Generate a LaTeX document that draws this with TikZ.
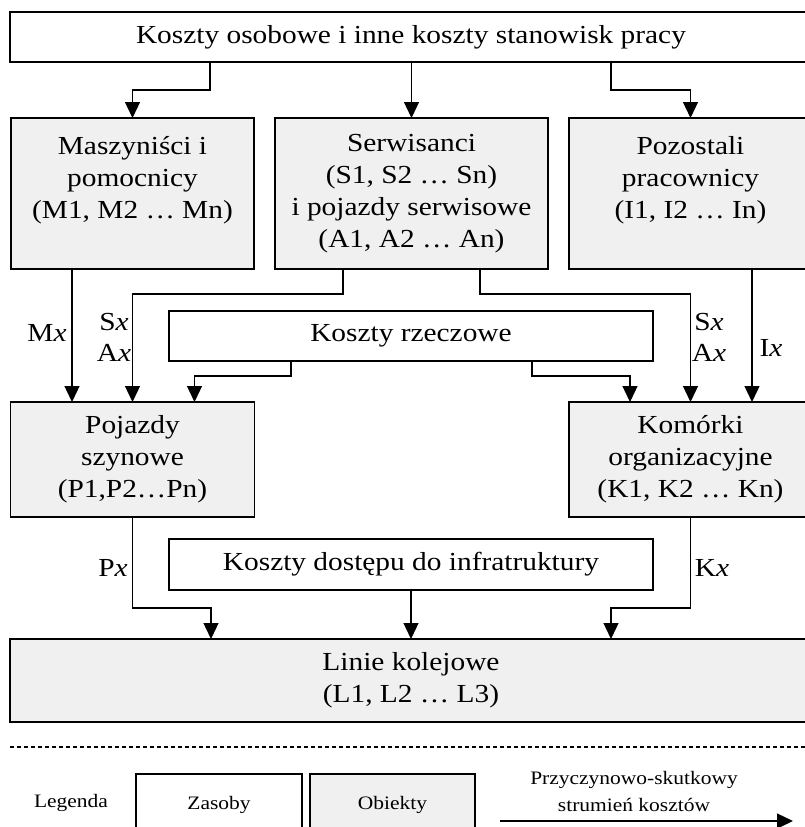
\documentclass[tikz,border=0pt]{standalone}
\usepackage{fontspec}
\setmainfont[FakeStretch=1.13]{Liberation Serif}
\usepackage{tikz}
\usetikzlibrary{arrows.meta}

\tikzset{
	zasob/.style={draw, line width=1.3pt, inner sep=0pt, outer sep=0pt, align=center},
	obiekt/.style={zasob, fill=black!6},
	flow/.style={-{Triangle[width=15pt,length=16pt]}, line width=1.3pt},
	opis/.style={inner sep=0pt, align=center},
	legfont/.style={font=\fontsize{19}{27}\selectfont}
}

\begin{document}
\begin{tikzpicture}[x=1pt, y=-1pt, font=\fontsize{26}{32}\selectfont]
		\useasboundingbox (0,0) rectangle (805,827);
		\clip (0,0) rectangle (805,827);
		\node[zasob, minimum width=802, minimum height=50] (koszty) at (411,37) {Koszty osobowe i inne koszty stanowisk pracy};
		\node[obiekt, minimum width=243, minimum height=151] (masz) at (132.5,193.5) {Maszyniści i\\pomocnicy\\(M1, M2 … Mn)\\\mbox{}};
		\node[obiekt, minimum width=273, minimum height=151] (serw) at (411.5,193.5) {Serwisanci\\(S1, S2 … Sn)\\i pojazdy serwisowe\\(A1, A2 … An)};
		\node[obiekt, minimum width=243, minimum height=151] (poz) at (690.5,193.5) {Pozostali\\pracownicy\\(I1, I2 … In)\\\mbox{}};
		\node[zasob, minimum width=484, minimum height=50] (rzecz) at (411,336) {Koszty rzeczowe};
		\node[obiekt, minimum width=244, minimum height=115] (pojazdy) at (132.5,459.5) {Pojazdy\\szynowe\\(P1,P2…Pn)};
		\node[obiekt, minimum width=243, minimum height=115] (kom) at (690.5,459.5) {Komórki\\organizacyjne\\(K1, K2 … Kn)};
		\node[zasob, minimum width=484, minimum height=51] (dostep) at (411,564.5) {Koszty dostępu do infratruktury};
		\node[obiekt, minimum width=802, minimum height=83] (linie) at (411,680.5) {Linie kolejowe\\(L1, L2 … L3)};

		\draw[flow] ([xshift=-201]koszty.south) -- ++(0,28) -| (masz.north);
		\draw[flow] (koszty.south -| serw.north) -- (serw.north);
		\draw[flow] ([xshift=200]koszty.south) -- ++(0,28) -| (poz.north);
		\draw[flow] ([xshift=-60.5]masz.south) -- ([xshift=-60.5]pojazdy.north);
		\draw[flow] ([xshift=-68.5]serw.south) -- ++(0,25) -| (pojazdy.north);
		\draw[flow] ([xshift=68.5]serw.south) -- ++(0,25) -| (kom.north);
		\draw[flow] ([xshift=61.5]poz.south) -- ([xshift=61.5]kom.north);
		\draw[flow] ([xshift=-120]rzecz.south) -- ++(0,15) -| ([xshift=62]pojazdy.north);
		\draw[flow] ([xshift=121]rzecz.south) -- ++(0,15) -| ([xshift=-60.5]kom.north);
		\draw[flow] (pojazdy.south) -- ++(0,91) -| ([xshift=-200]linie.north);
		\draw[flow] (dostep.south) -- (linie.north);
		\draw[flow] (kom.south) -- ++(0,91) -| ([xshift=200]linie.north);

		\node[opis] (lM) at (47,333) {M\textit{x}};
		\node[opis, font=\fontsize{26}{31}\selectfont] (lSA) at (114,337.5) {S\textit{x}\\A\textit{x}};
		\node[opis, font=\fontsize{26}{31}\selectfont] (rSA) at (709,337.5) {S\textit{x}\\A\textit{x}};
		\node[opis] (lI) at (771,348) {I\textit{x}};
		\node[opis] (lP) at (113,568) {P\textit{x}};
		\node[opis] (lK) at (712,568) {K\textit{x}};

		\draw[line width=2.5pt, dash pattern=on 4pt off 3pt] (10,747) -- (810,747);

		\node[opis, legfont] (leg) at (71,803) {Legenda};
		\node[zasob, legfont, minimum width=166, minimum height=61] (lzas) at (219,804.5) {Zasoby};
		\node[obiekt, legfont, minimum width=165, minimum height=61] (lobi) at (392.5,804.5) {Obiekty};
		\node[opis, legfont] (lstr) at (634,791.5) {Przyczynowo-skutkowy\\strumień kosztów};
		\coordinate (s1) at (500,821);
		\coordinate (s2) at (793,821);
		\draw[flow] (s1) -- (s2);
	\end{tikzpicture}
\end{document}
